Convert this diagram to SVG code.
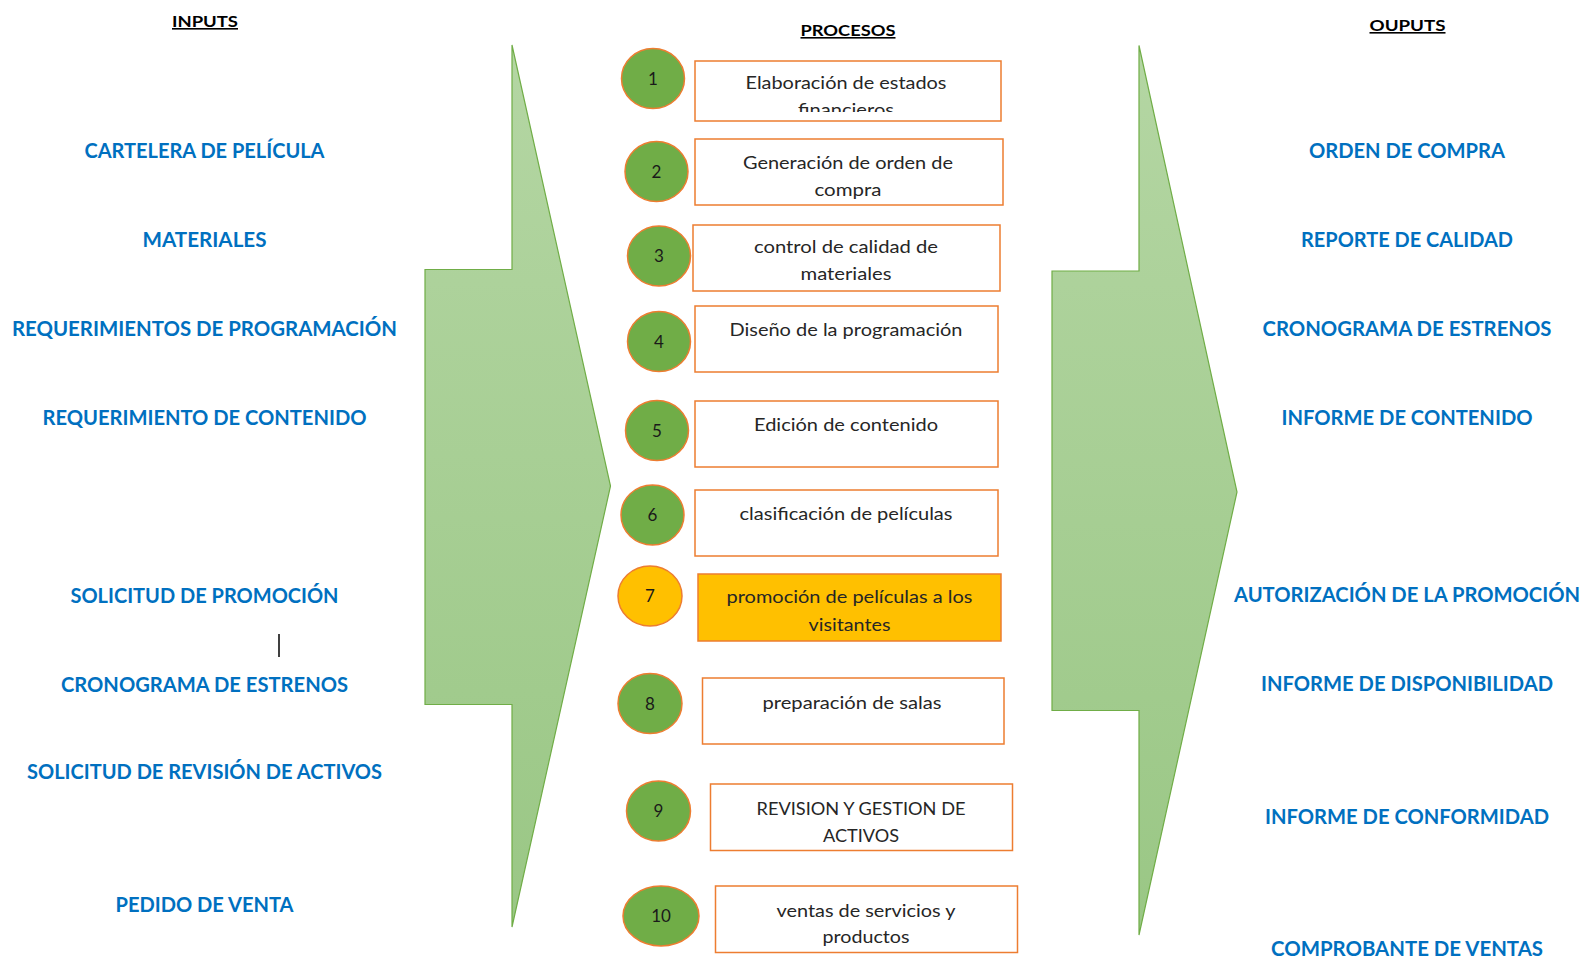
<svg xmlns="http://www.w3.org/2000/svg" width="1585" height="959" viewBox="0 0 1585 959">
  <style>
    .hdr { font-family: Lato, "Liberation Sans", sans-serif; font-weight: bold; font-size: 16px; fill: #000; text-decoration: underline; text-anchor: middle; }
    .io { font-family: Lato, "Liberation Sans", sans-serif; font-weight: bold; font-size: 20px; fill: #0070c0; text-anchor: middle; }
    .box { fill: #ffffff; stroke: #ed7d31; stroke-width: 1.5; }
    .box.hi { fill: #ffc000; }
    .dot { fill: #70ad47; stroke: #ed7d31; stroke-width: 1.5; }
    .dot.hi { fill: #ffc000; }
    .lbl { font-family: Lato, "Liberation Sans", sans-serif; font-size: 18px; fill: #262626; text-anchor: middle; }
    .num { font-family: Lato, "Liberation Sans", sans-serif; font-size: 17px; fill: #1a1a1a; text-anchor: middle; }
    .flow { fill: url(#greenFade); stroke: #70ad47; stroke-width: 1.2; }
  </style>
  <defs>
    <linearGradient id="greenFade" x1="0" y1="0" x2="0" y2="1">
      <stop offset="0" stop-color="#b4d6a3"/>
      <stop offset="1" stop-color="#9ac785"/>
    </linearGradient>
    <clipPath id="clipBox1">
      <rect x="695" y="61" width="306" height="51"/>
    </clipPath>
  </defs>
  <rect width="1585" height="959" fill="#ffffff"/>

  <!-- column headings -->
  <g id="headings">
    <text class="hdr" x="205" y="27" textLength="66" lengthAdjust="spacingAndGlyphs">INPUTS</text>
    <text class="hdr" x="848" y="36" textLength="95" lengthAdjust="spacingAndGlyphs">PROCESOS</text>
    <text class="hdr" x="1407.5" y="31" textLength="76" lengthAdjust="spacingAndGlyphs">OUPUTS</text>
  </g>

  <!-- big flow arrows -->
  <g id="connectors">
    <path id="arrow-in" class="flow" d="M512,45 L610.5,486 L512,927 L512,704.5 L425,704.5 L425,269.5 L512,269.5 Z"/>
    <path id="arrow-out" class="flow" d="M1139,45.5 L1237,492 L1139,935 L1139,710.5 L1052,710.5 L1052,271 L1139,271 Z"/>
  </g>

  <!-- inputs -->
  <g id="inputs">
    <text class="io" x="204.5" y="157.7" textLength="240" lengthAdjust="spacingAndGlyphs">CARTELERA DE PELÍCULA</text>
    <text class="io" x="204.5" y="246.6" textLength="124" lengthAdjust="spacingAndGlyphs">MATERIALES</text>
    <text class="io" x="204.5" y="335.5" textLength="385" lengthAdjust="spacingAndGlyphs">REQUERIMIENTOS DE PROGRAMACIÓN</text>
    <text class="io" x="204.5" y="424.5" textLength="324" lengthAdjust="spacingAndGlyphs">REQUERIMIENTO DE CONTENIDO</text>
    <text class="io" x="204.5" y="602.7" textLength="268" lengthAdjust="spacingAndGlyphs">SOLICITUD DE PROMOCIÓN</text>
    <line x1="279" y1="634" x2="279" y2="657" stroke="#000" stroke-width="1.5"/>
    <text class="io" x="204.5" y="691.7" textLength="287" lengthAdjust="spacingAndGlyphs">CRONOGRAMA DE ESTRENOS</text>
    <text class="io" x="204.5" y="779" textLength="355" lengthAdjust="spacingAndGlyphs">SOLICITUD DE REVISIÓN DE ACTIVOS</text>
    <text class="io" x="204.5" y="911.7" textLength="178" lengthAdjust="spacingAndGlyphs">PEDIDO DE VENTA</text>
  </g>

  <!-- processes -->
  <g id="p1">
    <ellipse class="dot" cx="653" cy="78.5" rx="31.5" ry="30"/>
    <text class="num" x="653" y="84.5">1</text>
    <rect class="box" x="695" y="61" width="306" height="60"/>
    <text class="lbl" x="846" y="88.5" textLength="201" lengthAdjust="spacingAndGlyphs">Elaboración de estados</text>
    <text class="lbl" x="846" y="115.5" textLength="96" lengthAdjust="spacingAndGlyphs" clip-path="url(#clipBox1)">financieros</text>
  </g>
  <g id="p2">
    <ellipse class="dot" cx="656.5" cy="171.5" rx="31.5" ry="30"/>
    <text class="num" x="656.5" y="177.5">2</text>
    <rect class="box" x="695" y="139" width="308" height="66"/>
    <text class="lbl" x="848" y="168.5" textLength="210" lengthAdjust="spacingAndGlyphs">Generación de orden de</text>
    <text class="lbl" x="848" y="195.7" textLength="67" lengthAdjust="spacingAndGlyphs">compra</text>
  </g>
  <g id="p3">
    <ellipse class="dot" cx="659" cy="256" rx="31.5" ry="30"/>
    <text class="num" x="659" y="262">3</text>
    <rect class="box" x="693" y="225" width="307" height="66"/>
    <text class="lbl" x="846" y="252.5" textLength="184" lengthAdjust="spacingAndGlyphs">control de calidad de</text>
    <text class="lbl" x="846" y="279.5" textLength="91" lengthAdjust="spacingAndGlyphs">materiales</text>
  </g>
  <g id="p4">
    <ellipse class="dot" cx="659" cy="341.5" rx="31.5" ry="30"/>
    <text class="num" x="659" y="347.5">4</text>
    <rect class="box" x="695" y="306" width="303" height="66"/>
    <text class="lbl" x="846" y="335.5" textLength="233" lengthAdjust="spacingAndGlyphs">Diseño de la programación</text>
  </g>
  <g id="p5">
    <ellipse class="dot" cx="657" cy="430.5" rx="31.5" ry="30"/>
    <text class="num" x="657" y="436.5">5</text>
    <rect class="box" x="695" y="401" width="303" height="66"/>
    <text class="lbl" x="846" y="430.5" textLength="184" lengthAdjust="spacingAndGlyphs">Edición de contenido</text>
  </g>
  <g id="p6">
    <ellipse class="dot" cx="652.5" cy="515" rx="31.5" ry="30"/>
    <text class="num" x="652.5" y="521">6</text>
    <rect class="box" x="695" y="490" width="303" height="66"/>
    <text class="lbl" x="846" y="519.5" textLength="213" lengthAdjust="spacingAndGlyphs">clasificación de películas</text>
  </g>
  <g id="p7">
    <ellipse class="dot hi" cx="650" cy="596" rx="32" ry="30"/>
    <text class="num" x="650" y="602">7</text>
    <rect class="box hi" x="698" y="574" width="303" height="67"/>
    <text class="lbl" x="849.5" y="603.3" textLength="246" lengthAdjust="spacingAndGlyphs">promoción de películas a los</text>
    <text class="lbl" x="849.5" y="630.7" textLength="82" lengthAdjust="spacingAndGlyphs">visitantes</text>
  </g>
  <g id="p8">
    <ellipse class="dot" cx="650" cy="703.5" rx="32" ry="30"/>
    <text class="num" x="650" y="709.5">8</text>
    <rect class="box" x="702.5" y="678" width="301.5" height="66"/>
    <text class="lbl" x="852" y="708.5" textLength="179" lengthAdjust="spacingAndGlyphs">preparación de salas</text>
  </g>
  <g id="p9">
    <ellipse class="dot" cx="658.5" cy="811" rx="32" ry="30"/>
    <text class="num" x="658.5" y="817">9</text>
    <rect class="box" x="710.5" y="784" width="302" height="66.5"/>
    <text class="lbl" x="861" y="815" textLength="209" lengthAdjust="spacingAndGlyphs">REVISION Y GESTION DE</text>
    <text class="lbl" x="861" y="842" textLength="76" lengthAdjust="spacingAndGlyphs">ACTIVOS</text>
  </g>
  <g id="p10">
    <ellipse class="dot" cx="661" cy="916" rx="38" ry="30"/>
    <text class="num" x="661" y="922">10</text>
    <rect class="box" x="715.5" y="886" width="302" height="66.5"/>
    <text class="lbl" x="866" y="916.7" textLength="179" lengthAdjust="spacingAndGlyphs">ventas de servicios y</text>
    <text class="lbl" x="866" y="943" textLength="87" lengthAdjust="spacingAndGlyphs">productos</text>
  </g>

  <!-- outputs -->
  <g id="outputs">
    <text class="io" x="1407" y="157.6" textLength="196" lengthAdjust="spacingAndGlyphs">ORDEN DE COMPRA</text>
    <text class="io" x="1407" y="246.6" textLength="212" lengthAdjust="spacingAndGlyphs">REPORTE DE CALIDAD</text>
    <text class="io" x="1407" y="335.5" textLength="289" lengthAdjust="spacingAndGlyphs">CRONOGRAMA DE ESTRENOS</text>
    <text class="io" x="1407" y="424.5" textLength="251" lengthAdjust="spacingAndGlyphs">INFORME DE CONTENIDO</text>
    <text class="io" x="1407" y="602.4" textLength="346" lengthAdjust="spacingAndGlyphs">AUTORIZACIÓN DE LA PROMOCIÓN</text>
    <text class="io" x="1407" y="691.3" textLength="292" lengthAdjust="spacingAndGlyphs">INFORME DE DISPONIBILIDAD</text>
    <text class="io" x="1407" y="823.7" textLength="284" lengthAdjust="spacingAndGlyphs">INFORME DE CONFORMIDAD</text>
    <text class="io" x="1407" y="956" textLength="272" lengthAdjust="spacingAndGlyphs">COMPROBANTE DE VENTAS</text>
  </g>
</svg>
